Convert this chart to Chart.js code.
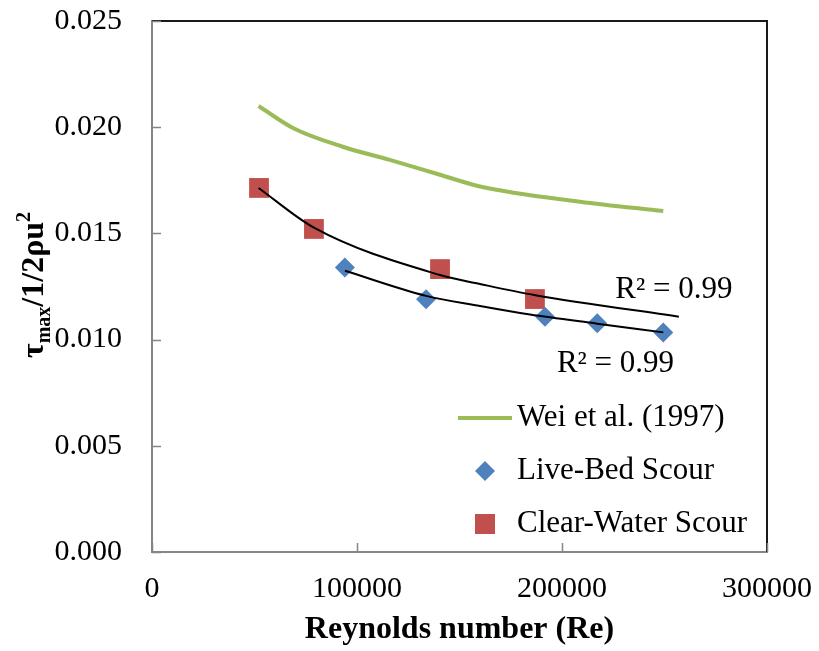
<!DOCTYPE html>
<html>
<head>
<meta charset="utf-8">
<script src="https://cdn.jsdelivr.net/npm/chart.js@4.4.0/dist/chart.umd.min.js"></script>
<style>
  html, body { margin: 0; padding: 0; background: #ffffff; }
  canvas { display: block; }
</style>
</head>
<body>
<canvas id="grafiku" width="819" height="651"></canvas>
<script>
// te dhenat e lexuara nga figura
var weiRe = [52000, 69000, 93000, 116000, 140500, 160000, 208800, 249400];
var weiTau = [0.02100, 0.01995, 0.01908, 0.01846, 0.01776, 0.01721, 0.01649, 0.01605];

var liveBedRe = [94100, 133700, 191700, 217200, 249400];
var liveBedTau = [0.01339, 0.01190, 0.01108, 0.01077, 0.01034];

var clearWaterRe = [52200, 79000, 140500, 186800];
var clearWaterTau = [0.01714, 0.01521, 0.01332, 0.01191];

// vijat e prirjes (trendline) te lexuara nga figura
var liveFitRe = [94100, 133700, 160000, 184400, 217200, 249400];
var liveFitTau = [0.01324, 0.01206, 0.01158, 0.01118, 0.01075, 0.01034];
var clearFitRe = [52000, 79000, 140500, 160000, 187000, 257000];
var clearFitTau = [0.01714, 0.01527, 0.01304, 0.01262, 0.01209, 0.01108];

var xTicks = [0, 100000, 200000, 300000];
var yTicks = [0.000, 0.005, 0.010, 0.015, 0.020, 0.025];

var seriesNames = ["Wei et al. (1997)", "Live-Bed Scour", "Clear-Water Scour"];
var r2Labels = ["R\u00B2 = 0.99", "R\u00B2 = 0.99"];

var serif = "'Liberation Serif', 'Times New Roman', serif";

function pairs(xs, ys) {
    return xs.map(function(v, i) { return { x: v, y: ys[i] }; });
}

// heqim hapesirat shtese qe Chart.js shton per etiketat
function noOverhang(s) {
    s.paddingTop = 0;
    s.paddingBottom = 0;
    s.paddingLeft = 0;
    s.paddingRight = 0;
}

// vizatime shtese: kornize, viza te brendshme, legjenda, R2, titulli Y
var decorPlugin = {
    id: "decor",
    beforeDatasetsDraw: function(chart) {
        var ctx = chart.ctx, a = chart.chartArea;
        var sx = chart.scales.x, sy = chart.scales.y;
        ctx.save();
        ctx.strokeStyle = "#1a1a1a";
        ctx.lineWidth = 2;
        ctx.beginPath();
        ctx.moveTo(a.left, a.top);
        ctx.lineTo(a.right, a.top);
        ctx.lineTo(a.right, a.bottom);
        ctx.stroke();

        ctx.strokeStyle = "#868686";
        ctx.lineWidth = 1.5;
        yTicks.forEach(function(v) {
            var py = Math.round(sy.getPixelForValue(v)) + 0.5;
            ctx.beginPath(); ctx.moveTo(a.left, py); ctx.lineTo(a.left + 9, py); ctx.stroke();
        });
        xTicks.forEach(function(v) {
            var px = Math.round(sx.getPixelForValue(v)) + 0.5;
            ctx.beginPath(); ctx.moveTo(px, a.bottom); ctx.lineTo(px, a.bottom - 9); ctx.stroke();
        });
        ctx.restore();
    },
    afterDraw: function(chart) {
        var ctx = chart.ctx, a = chart.chartArea;
        var sx = chart.scales.x, sy = chart.scales.y;
        ctx.save();

        // R2 per vijat e prirjes
        ctx.fillStyle = "#000000";
        ctx.font = "31px " + serif;
        ctx.textBaseline = "alphabetic";
        ctx.textAlign = "left";
        ctx.fillText(r2Labels[0], sx.getPixelForValue(226000), sy.getPixelForValue(0.01196));
        ctx.fillText(r2Labels[1], sx.getPixelForValue(197500), sy.getPixelForValue(0.00848));

        // legjenda brenda zones se grafikut
        var lx = a.right - 309, ly = a.bottom - 134, gap = 53;
        ctx.strokeStyle = "#9BBB59";
        ctx.lineWidth = 4;
        ctx.beginPath(); ctx.moveTo(lx, ly); ctx.lineTo(lx + 54, ly); ctx.stroke();

        ctx.fillStyle = "#4F81BD";
        var dx = lx + 27, dy = ly + gap;
        ctx.beginPath();
        ctx.moveTo(dx, dy - 10); ctx.lineTo(dx + 10, dy); ctx.lineTo(dx, dy + 10); ctx.lineTo(dx - 10, dy);
        ctx.closePath(); ctx.fill();

        ctx.fillStyle = "#C0504D";
        ctx.fillRect(dx - 10, ly + 2 * gap - 10, 20, 20);

        ctx.fillStyle = "#000000";
        ctx.textBaseline = "middle";
        seriesNames.forEach(function(n, i) {
            ctx.fillText(n, lx + 59, ly + i * gap);
        });

        // titulli i boshtit Y me indeks dhe eksponent
        ctx.translate(32, 285);
        ctx.rotate(-Math.PI / 2);
        var parts = [
            { t: "\u03C4", size: 32, dy: 0 },
            { t: "max", size: 20, dy: 7 },
            { t: "/1/2\u03C1u", size: 32, dy: 0 },
            { t: "2", size: 20, dy: -13 }
        ];
        var total = 0;
        parts.forEach(function(p) {
            ctx.font = "bold " + p.size + "px " + serif;
            p.w = ctx.measureText(p.t).width;
            total += p.w;
        });
        var cx = -total / 2;
        ctx.textAlign = "left";
        ctx.textBaseline = "alphabetic";
        parts.forEach(function(p) {
            ctx.font = "bold " + p.size + "px " + serif;
            ctx.fillText(p.t, cx, 11 + p.dy);
            cx += p.w;
        });
        ctx.restore();
    }
};

var grafiku = new Chart(document.getElementById("grafiku"), {
    type: "scatter",
    data: {
        datasets: [
            {
                label: seriesNames[0],
                data: pairs(weiRe, weiTau),
                showLine: true,
                borderColor: "#9BBB59",
                borderWidth: 4,
                pointRadius: 0,
                cubicInterpolationMode: "monotone",
                order: 3
            },
            {
                label: seriesNames[1],
                data: pairs(liveBedRe, liveBedTau),
                pointStyle: "rectRot",
                pointRadius: 10,
                backgroundColor: "#4F81BD",
                borderColor: "#4F81BD",
                borderWidth: 0,
                order: 2
            },
            {
                label: seriesNames[2],
                data: pairs(clearWaterRe, clearWaterTau),
                pointStyle: "rect",
                pointRadius: 14,
                backgroundColor: "#C0504D",
                borderColor: "#C0504D",
                borderWidth: 0,
                order: 2
            },
            {
                label: "fit live",
                data: pairs(liveFitRe, liveFitTau),
                showLine: true,
                borderColor: "#000000",
                borderWidth: 2,
                pointRadius: 0,
                cubicInterpolationMode: "monotone",
                order: 1
            },
            {
                label: "fit clear",
                data: pairs(clearFitRe, clearFitTau),
                showLine: true,
                borderColor: "#000000",
                borderWidth: 2,
                pointRadius: 0,
                cubicInterpolationMode: "monotone",
                order: 1
            }
        ]
    },
    options: {
        responsive: false,
        animation: false,
        layout: { padding: { top: 21, right: 52, left: 0, bottom: 0 } },
        plugins: {
            legend: { display: false },
            tooltip: { enabled: false }
        },
        scales: {
            x: {
                type: "linear",
                min: 0,
                max: 300000,
                afterFit: function(s) { s.height = 99; noOverhang(s); },
                afterBuildTicks: function(s) { s.ticks = xTicks.map(function(v) { return { value: v }; }); },
                grid: { display: false, drawTicks: false },
                border: { display: true, color: "#868686", width: 2 },
                ticks: {
                    padding: 19,
                    color: "#000000",
                    font: { family: serif, size: 30 },
                    maxRotation: 0,
                    callback: function(v) { return String(v); }
                },
                title: {
                    display: true,
                    text: "Reynolds number (Re)",
                    color: "#000000",
                    font: { family: serif, size: 32, weight: "bold" },
                    padding: { top: 0, bottom: 2 }
                }
            },
            y: {
                type: "linear",
                min: 0,
                max: 0.025,
                afterFit: function(s) { s.width = 152; noOverhang(s); },
                afterBuildTicks: function(s) { s.ticks = yTicks.map(function(v) { return { value: v }; }); },
                grid: { display: false, drawTicks: false },
                border: { display: true, color: "#868686", width: 2 },
                ticks: {
                    padding: 30,
                    color: "#000000",
                    font: { family: serif, size: 30 },
                    callback: function(v) { return Number(v).toFixed(3); }
                }
            }
        }
    },
    plugins: [decorPlugin]
});
</script>
</body>
</html>
